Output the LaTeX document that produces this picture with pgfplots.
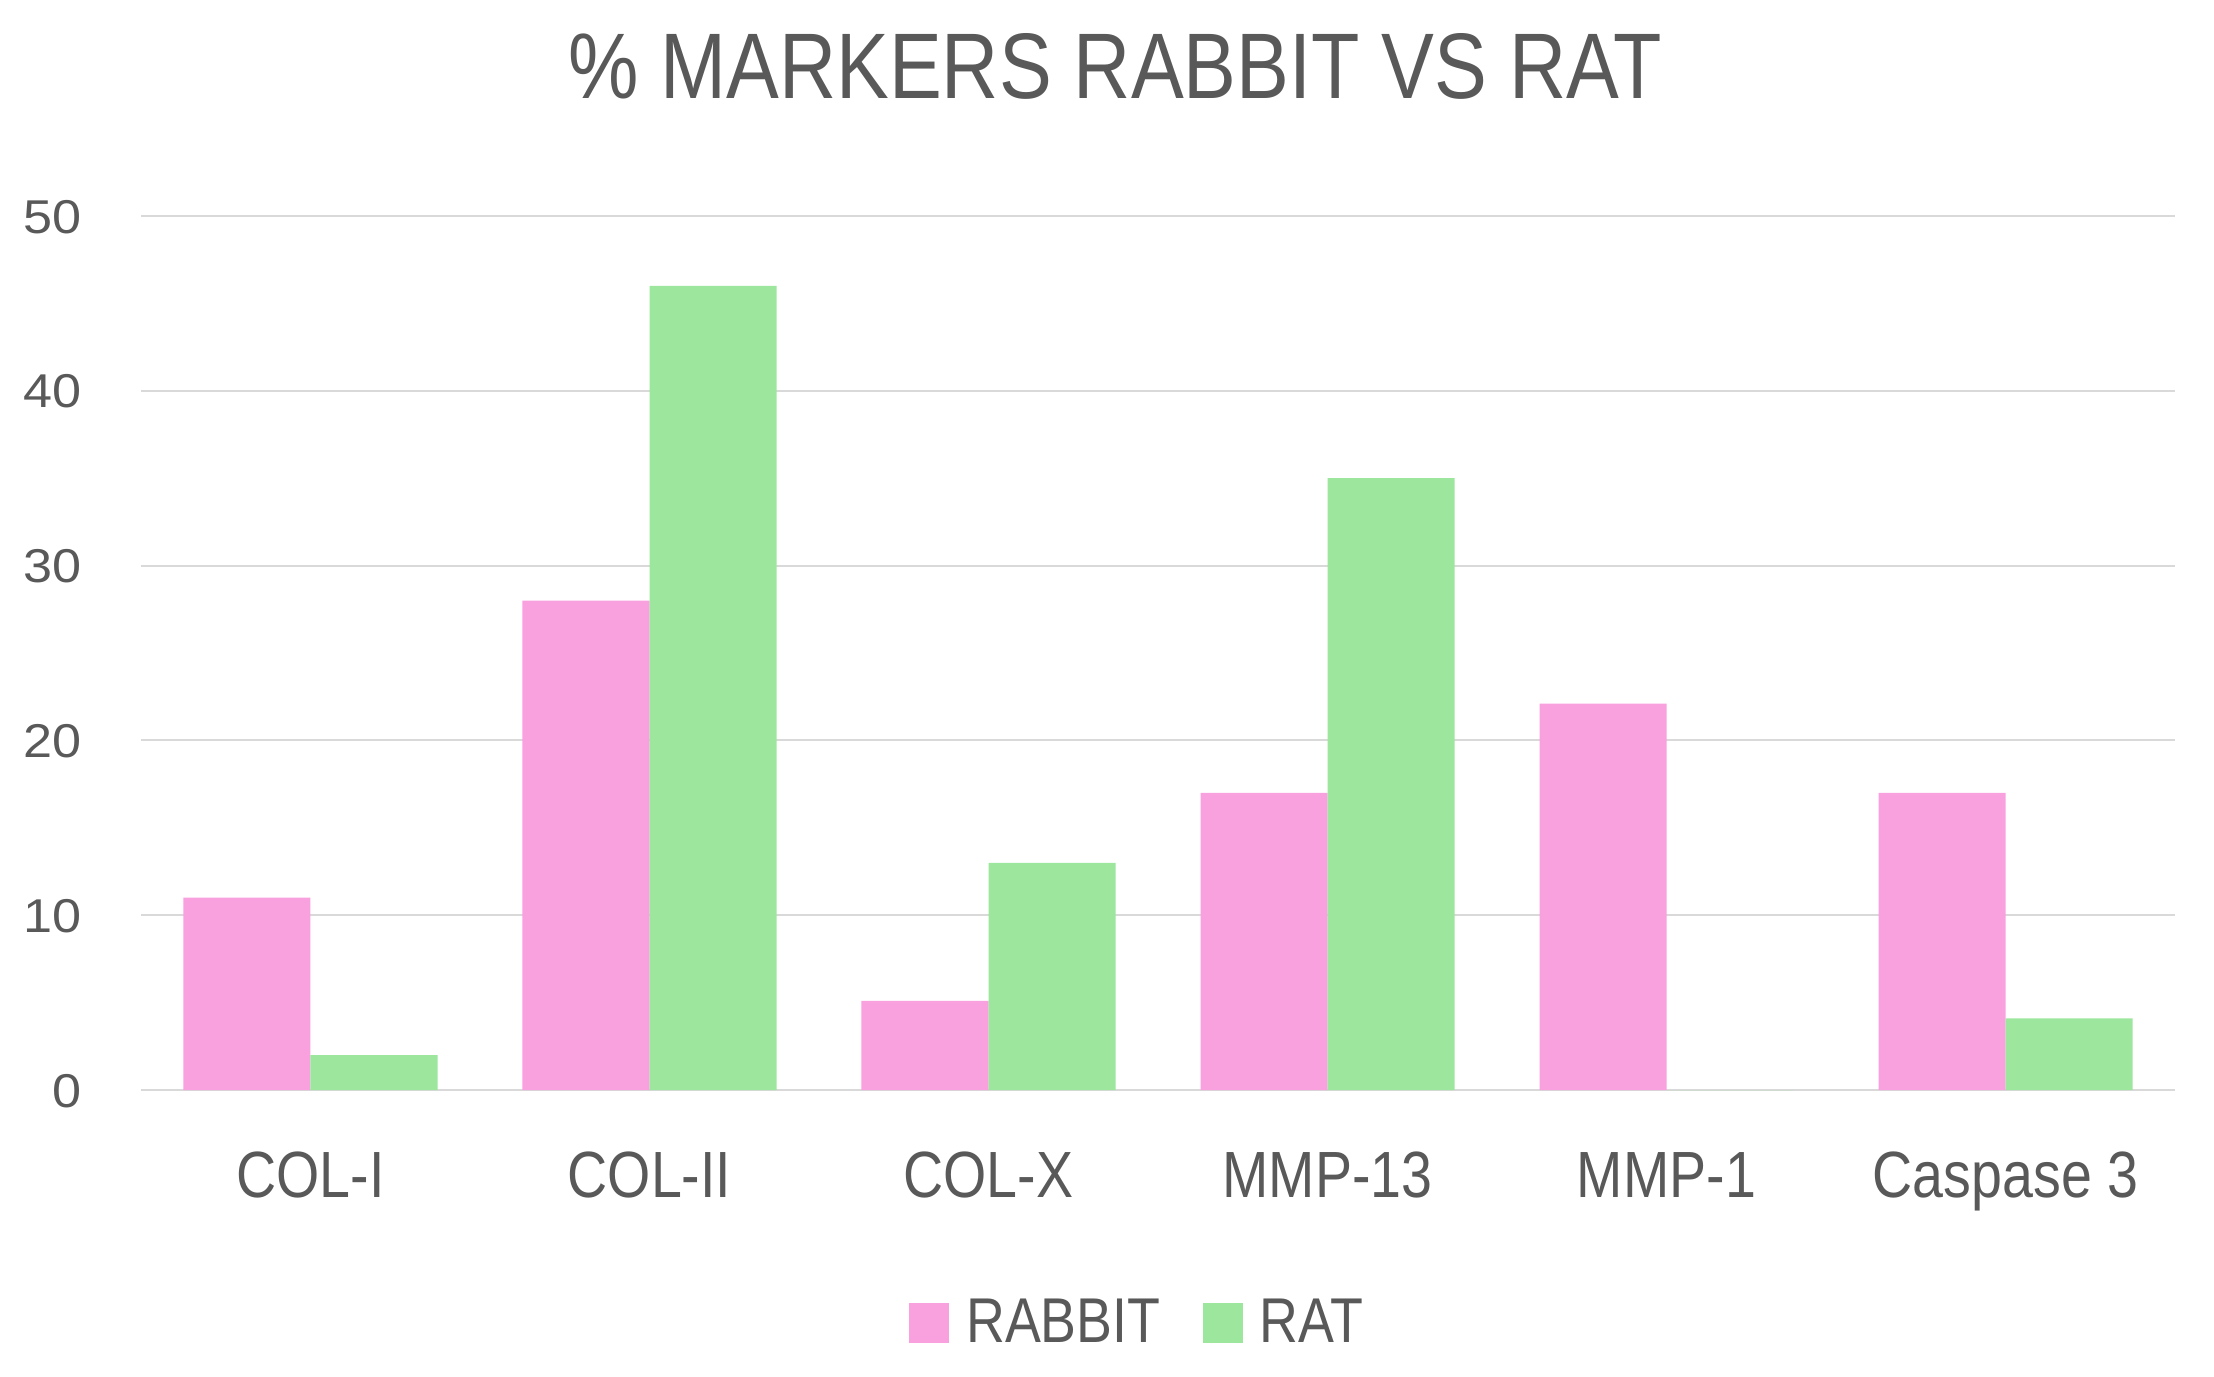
\documentclass[border=0pt]{standalone}
\usepackage{fontspec}
\setmainfont[FakeStretch=0.85]{Liberation Sans}
\newfontfamily\tickfont[FakeStretch=1.1]{Liberation Sans}
\usepackage{pgfplots}
\pgfplotsset{compat=1.18}
\definecolor{cRabbit}{RGB}{249,160,222}
\definecolor{cRat}{RGB}{157,230,157}
\definecolor{cText}{RGB}{89,89,89}
\definecolor{cGrid}{RGB}{217,217,217}

\begin{document}
\begin{tikzpicture}
\useasboundingbox (-1.41cm,-2.87cm) rectangle (20.73cm,10.90cm);
\begin{axis}[
    at={(0,0)}, anchor=south west,
    scale only axis,
    width=20.34cm, height=8.74cm,
    ybar=0pt, bar width=1.27cm,
    xmin=-0.5, xmax=5.5,
    ymin=0, ymax=50,
    xtick=data,
    xticklabels={COL-I, COL-II, COL-X, MMP-13, MMP-1, Caspase 3},
    ytick={0,10,20,30,40,50},
    major tick length=0pt,
    axis x line*=bottom,
    axis y line*=left,
    x axis line style={draw=cGrid, line width=0.6pt},
    y axis line style={draw=none},
    ymajorgrids,
    grid style={cGrid, line width=0.6pt},
    xticklabel style={font=\fontsize{18.6}{20}\selectfont, text=cText, anchor=base, yshift=-1.07cm},
    yticklabel style={font=\tickfont\fontsize{13.5}{15}\selectfont, text=cText, anchor=base east, inner sep=0pt, xshift=-0.59cm, yshift=-0.17cm},
    /pgf/number format/assume math mode=true,
    legend columns=2,
    legend style={at={(0.491,-0.2666)}, anchor=center, draw=none,
                  font=\fontsize{18}{20}\selectfont, text=cText,
                  /tikz/every even column/.append style={column sep=0.35cm}},
    legend image code/.code={\fill[#1] (0cm,-0.2cm) rectangle (0.4cm,0.2cm);
                             \path (0.5cm,0cm);},
]
\addplot[fill=cRabbit, draw=none] coordinates {
    (0,11) (1,28) (2,5.1) (3,17) (4,22.1) (5,17)
};
\addlegendentry{RABBIT}
\addplot[fill=cRat, draw=none] coordinates {
    (0,2) (1,46) (2,13) (3,35) (4,0) (5,4.1)
};
\addlegendentry{RAT}
\end{axis}
\node[anchor=base, text=cText, font=\fontsize{26.5}{30}\selectfont] at (9.74cm,9.91cm) {\% MARKERS RABBIT VS RAT};
\end{tikzpicture}
\end{document}
